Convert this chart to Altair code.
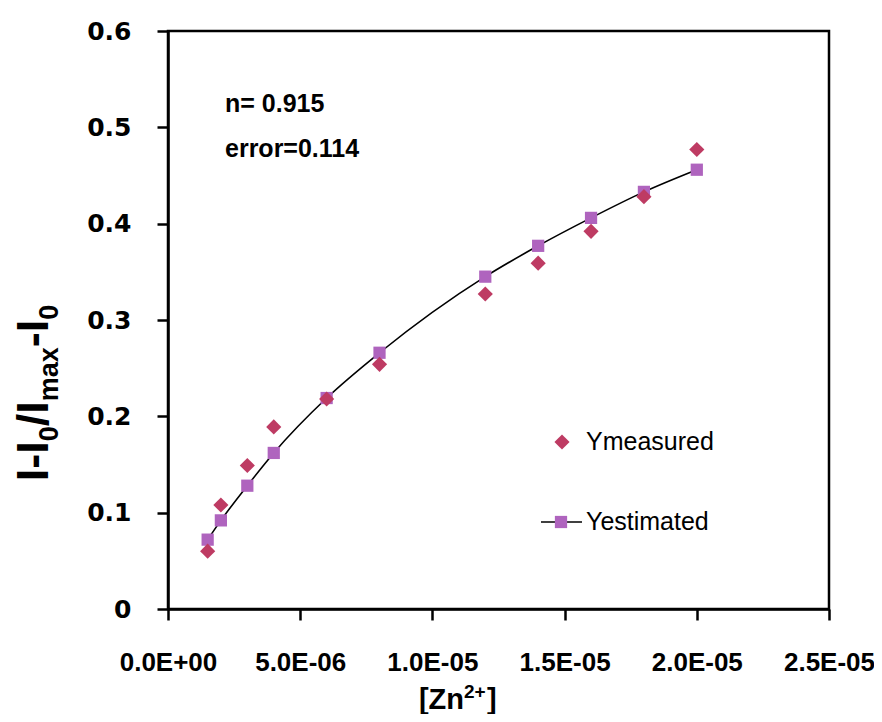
import altair as alt
import pandas as pd

# ---- data ----
conc = [1.5e-6, 2e-6, 3e-6, 4e-6, 6e-6, 8e-6, 1.2e-5, 1.4e-5, 1.6e-5, 1.8e-5, 2.0e-5]
y_measured = [0.060, 0.108, 0.149, 0.189, 0.218, 0.254, 0.327, 0.359, 0.392, 0.428, 0.477]
y_estimated = [0.072, 0.092, 0.128, 0.162, 0.219, 0.266, 0.345, 0.377, 0.406, 0.433, 0.456]

x_ticks = [0, 5e-6, 1e-5, 1.5e-5, 2e-5, 2.5e-5]
x_tick_labels = ["0.0E+00", "5.0E-06", "1.0E-05", "1.5E-05", "2.0E-05", "2.5E-05"]
y_ticks = [0, 0.1, 0.2, 0.3, 0.4, 0.5, 0.6]
y_tick_labels = ["0", "0.1", "0.2", "0.3", "0.4", "0.5", "0.6"]

annot_n = "n= 0.915"
annot_err = "error=0.114"
legend_names = ["Ymeasured", "Yestimated"]

C_MEAS = "#BE3B63"
C_EST = "#AF64BE"

df = pd.DataFrame({"conc": conc, "meas": y_measured, "est": y_estimated})

W, H = 661, 578

def arr(lst):
    return "[" + ",".join("'" + s + "'" for s in lst) + "]"

x_enc = alt.X(
    "conc:Q",
    scale=alt.Scale(domain=[0, 2.5e-5], nice=False, zero=True),
    axis=alt.Axis(
        values=x_ticks,
        labelExpr=arr(x_tick_labels) + "[round(datum.index*5)]",
        title=None,
        labelFont="Liberation Sans",
        labelFontWeight="bold",
        labelFontSize=26,
        labelPadding=29,
        labelColor="black",
        labelFlush=False,
        labelOverlap=False,
    ),
)
y_scale = alt.Scale(domain=[0, 0.6], nice=False, zero=True)
y_axis = alt.Axis(
    values=y_ticks,
    labelExpr=arr(y_tick_labels) + "[round(datum.index*6)]",
    title=None,
    labelFont="DejaVu Sans",
    labelFontWeight="bold",
    labelFontSize=25,
    labelPadding=26,
    labelColor="black",
    labelFlush=False,
    labelOverlap=False,
)

base = alt.Chart(df)

line = base.mark_line(color="black", strokeWidth=1.6, interpolate="monotone").encode(
    x=x_enc, y=alt.Y("est:Q", scale=y_scale, axis=y_axis)
)
squares = base.mark_point(shape="square", filled=True, size=150, color=C_EST, opacity=1).encode(
    x=x_enc, y=alt.Y("est:Q", scale=y_scale, axis=y_axis)
)
diamonds = base.mark_point(shape="diamond", filled=True, size=230, color=C_MEAS, opacity=1).encode(
    x=x_enc, y=alt.Y("meas:Q", scale=y_scale, axis=y_axis)
)

one = alt.Data(values=[{"a": 1}])

def txt(s, x, y, size, weight="bold", align="left", baseline="middle", angle=0, font="Liberation Sans"):
    kw = dict(text=s, fontSize=size, fontWeight=weight, align=align, baseline=baseline,
              font=font, color="black")
    if angle:
        kw["angle"] = angle
    return alt.Chart(one).mark_text(**kw).encode(x=alt.value(x), y=alt.value(y))

layers = [line, squares, diamonds]

# annotations
layers.append(txt(annot_n, 57, 73, 25))
layers.append(txt(annot_err, 57, 118, 25))

# legend
layers.append(alt.Chart(one).mark_point(shape="diamond", filled=True, size=230, color=C_MEAS, opacity=1)
              .encode(x=alt.value(394), y=alt.value(411)))
layers.append(txt(legend_names[0], 418, 411, 25, weight="normal"))
layers.append(alt.Chart(one).mark_rule(color="black", strokeWidth=1.6)
              .encode(x=alt.value(373), x2=alt.value(414), y=alt.value(491)))
layers.append(alt.Chart(one).mark_point(shape="square", filled=True, size=150, color=C_EST, opacity=1)
              .encode(x=alt.value(393), y=alt.value(491)))
layers.append(txt(legend_names[1], 418, 491, 25, weight="normal"))

# y-axis title built from pieces (rotated, with subscripts)
main_bx, sub_bx = -120, -110
pieces = [("I-I", 45, main_bx, 0.889), ("0", 27, sub_bx, 0.556), ("/I", 45, main_bx, 0.556),
          ("max", 27, sub_bx, 2.001), ("-I", 45, main_bx, 0.611), ("0", 27, sub_bx, 0.556)]
total = sum(sz * em for _, sz, _, em in pieces)
ypos = 362 + total / 2
for s, sz, bx, em in pieces:
    layers.append(txt(s, bx, ypos, sz, align="left", baseline="alphabetic", angle=270))
    ypos -= sz * em

# x-axis title "[Zn2+]"
layers.append(txt("[Zn", 296, 678, 29, align="right", baseline="alphabetic"))
layers.append(txt("2+", 296, 667, 19, align="left", baseline="alphabetic"))
layers.append(txt("]", 319, 678, 29, align="left", baseline="alphabetic"))

chart = alt.layer(*layers).properties(
    width=W,
    height=H,
    padding={"left": 160, "top": 23, "right": 45, "bottom": 105},
    autosize=alt.AutoSizeParams(type="none"),
    background="white",
).configure_view(
    stroke="black", strokeWidth=2.5
).configure_axis(
    grid=False,
    domainColor="black",
    domainWidth=2.5,
    tickColor="black",
    tickWidth=2.5,
    tickSize=11,
)

chart.save("out.html", embed_options={"renderer": "svg", "actions": False})
